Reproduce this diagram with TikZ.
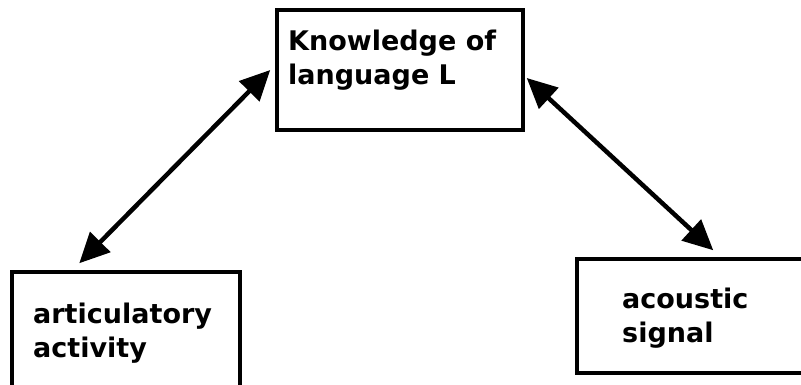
\documentclass[tikz,border=0pt]{standalone}
\usepackage{fontspec}
\setsansfont{DejaVu Sans}
\usetikzlibrary{arrows.meta,positioning}
\tikzset{
	box/.style={draw, line width=3.5pt, inner sep=0pt},
	txt/.style={font=\sffamily\bfseries\fontsize{27}{34}\selectfont, align=left, inner sep=0pt, anchor=base west},
	link/.style={line width=4.5pt, {Triangle[length=30pt,width=28pt]}-{Triangle[length=30pt,width=28pt]}}
}

\begin{document}
\begin{tikzpicture}
		[x=1pt, y=1pt]
		
		\useasboundingbox (0, 0) rectangle (801, 384);
		
		% knowledge box ------------------------------------------
		\node[box, minimum width=246, minimum height=120] (know) at (400, 314) {};
		\node[txt] (knowtxt) at (288, 300) {Knowledge of\\language L};
		
		% articulation box ---------------------------------------
		\node[box, minimum width=228, minimum height=128] (art) at (126, 48) {};
		\node[txt] (arttxt) at (33, 27) {articulatory\\activity};
		
		% signal box ---------------------------------------------
		\node[box, minimum width=253, minimum height=114] (sig) at (703.5, 68) {};
		\node[txt] (sigtxt) at (622, 42) {acoustic\\signal};
		
		% arrows -------------------------------------------------
		\draw[link] ([xshift=-5]know.west) -- ([shift={(69,7)}]art.north west);
		\draw[link] ([shift={(2,-8)}]know.east) -- ([shift={(138,7)}]sig.north west);
		
\end{tikzpicture}
\end{document}
